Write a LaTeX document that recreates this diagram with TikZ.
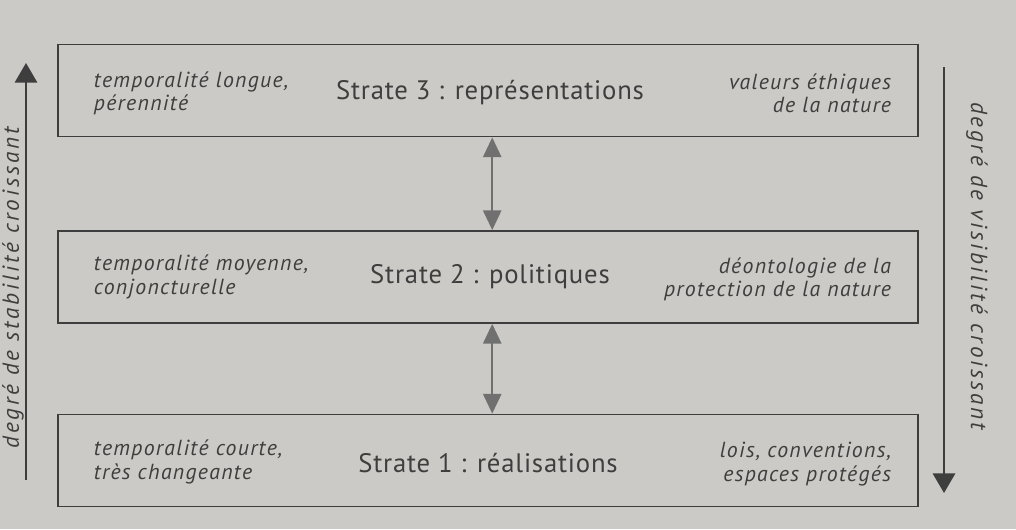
\documentclass[tikz,border=0pt]{standalone}
\usepackage{fontspec}
\setmainfont{PT Sans}
\usetikzlibrary{arrows.meta}
\definecolor{paper}{RGB}{203,202,198}
\definecolor{ink}{RGB}{62,62,62}
\definecolor{pale}{RGB}{112,112,112}
\begin{document}
\begin{tikzpicture}[
x=0.025cm, y=-0.025cm,
strate/.style = {rectangle, draw=ink, line width=1.3pt, minimum width=21.5cm, minimum height=2.3cm, inner sep=0pt},
titre/.style = {text=ink, font=\fontsize{19}{21}\selectfont\addfontfeatures{LetterSpace=3}},
note/.style = {text=ink, font=\itshape\fontsize{15.5}{16.5}\selectfont\addfontfeatures{LetterSpace=6}},
axelabel/.style = {text=ink, inner sep=1pt, font=\itshape\fontsize{16.5}{18}\selectfont\addfontfeatures{LetterSpace=12}},
liaison/.style = {pale, line width=1.2pt, {Triangle[width=13pt,length=14pt]}-{Triangle[width=13pt,length=14pt]}},
axe/.style = {ink, line width=1.3pt, -{Triangle[width=16pt,length=14pt]}}
]
\fill[paper] (0,0) rectangle (1016,529);
\useasboundingbox (0,0) rectangle (1016,529);
% the three strata
\node[strate] (s3) at (488,90.5) {};
\node[strate] (s2) at (488,277) {};
\node[strate] (s1) at (488,460.5) {};
\node[titre] (t3) at (490,93) {Strate 3 : représentations};
\node[titre] (t2) at (490,277) {Strate 2 : politiques};
\node[titre] (t1) at (488,463) {Strate 1 : réalisations};
\node[note, anchor=west, align=left] (g3) at (89,93) {temporalité longue,\\pérennité};
\node[note, anchor=west, align=left] (g2) at (89,277) {temporalité moyenne,\\conjoncturelle};
\node[note, anchor=west, align=left] (g1) at (89,462) {temporalité courte,\\très changeante};
\node[note, anchor=east, align=right] (d3) at (896,93) {valeurs éthiques\\de la nature};
\node[note, anchor=east, align=right] (d2) at (896,279) {déontologie de la\\protection de la nature};
\node[note, anchor=east, align=right] (d1) at (896,464) {lois, conventions,\\espaces protégés};
% links between strata
\draw[liaison] ([xshift=3]s3.south) -- ([xshift=3]s2.north);
\draw[liaison] ([xshift=3]s2.south) -- ([xshift=3]s1.north);
% side axes
\coordinate (gbas) at (26,480);
\coordinate (ghaut) at (26,63);
\coordinate (dhaut) at (944,67);
\coordinate (dbas) at (944,493);
\draw[axe] (gbas) -- (ghaut);
\draw[axe] (dhaut) -- (dbas);
\node[axelabel, rotate=90] (stab) at (13,288) {degré de stabilité croissant};
\node[axelabel, rotate=-90] (visi) at (977,266) {degré de visibilité croissant};
\end{tikzpicture}
\end{document}
